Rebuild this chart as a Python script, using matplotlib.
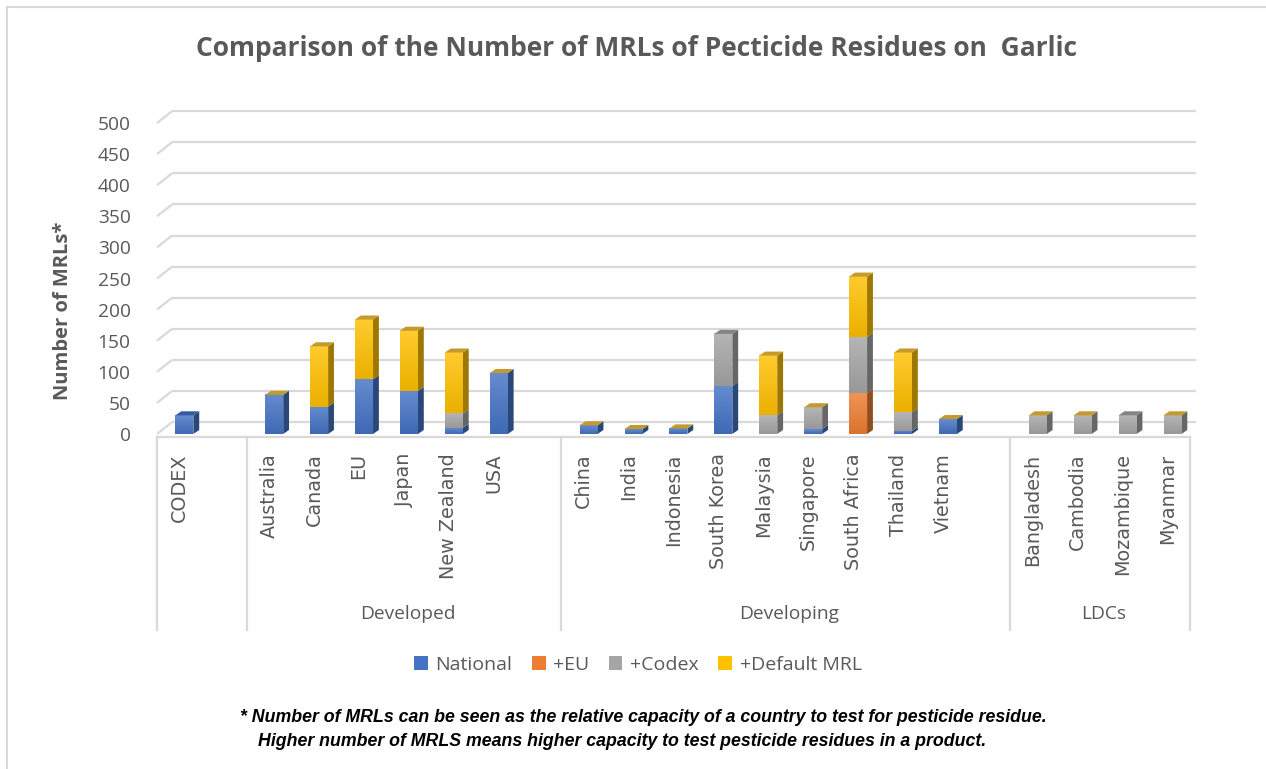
import numpy as np
import matplotlib
matplotlib.use("Agg")
import matplotlib.pyplot as plt
from matplotlib.patches import Patch, Polygon
from matplotlib.lines import Line2D
from matplotlib import colors as mcolors
from matplotlib import transforms

nan = np.nan

# ---- data -------------------------------------------------------------
group_names = ["", "Developed", "Developing", "LDCs"]
group_members = [
    ["CODEX"],
    ["Australia", "Canada", "EU", "Japan", "New Zealand", "USA"],
    ["China", "India", "Indonesia", "South Korea", "Malaysia", "Singapore",
     "South Africa", "Thailand", "Vietnam"],
    ["Bangladesh", "Cambodia", "Mozambique", "Myanmar"],
]
countries = [c for g in group_members for c in g]

national = [30, 63, 44, 88, 69, 10, 98, 14, 8, 9, 77, nan, 8, nan, 5, 24,
            nan, nan, nan, nan]
plus_eu = [nan, nan, nan, nan, nan, nan, nan, nan, nan, nan, nan, nan, nan,
           66, nan, nan, nan, nan, nan, nan]
plus_codex = [nan, 0, 0, 0, 0, 23, 0, 0, 0, 0, 84, 30, 35, 90, 30, 0,
              30, 30, 30, 30]
plus_default = [nan, 0, 97, 96, 97, 98, 0, 0, 0, 0, nan, 96, 0, 97, 96, 0,
                0, 0, nan, 0]

series_names = ["National", "+EU", "+Codex", "+Default MRL"]
series_values = [national, plus_eu, plus_codex, plus_default]
series_colors = ["#4472C4", "#ED7D31", "#A5A5A5", "#FFC000"]
y_ticks = [0, 50, 100, 150, 200, 250, 300, 350, 400, 450, 500]

# ---- figure -----------------------------------------------------------
W, H = 1266, 769
fig = plt.figure(figsize=(W / 100, H / 100), dpi=100)
fig.patch.set_facecolor("white")

TXT = "#595959"
GRID = "#D9D9D9"
SANS = ["Open Sans", "DejaVu Sans"]

ax = fig.add_axes([157 / W, (H - 434) / H, 1033 / W, 311 / H])
ax.set_facecolor("none")
for s in ax.spines.values():
    s.set_visible(False)

# slot positions: one empty slot after each group but the last
positions = []
group_spans = []
slot = 0
for gi, members in enumerate(group_members):
    start = slot
    for _ in members:
        positions.append(slot + 0.5)
        slot += 1
    if gi < len(group_members) - 1:
        slot += 1
    group_spans.append((start, slot))
n_slots = slot
positions = np.array(positions)

ax.set_xlim(0, n_slots)
ax.set_ylim(0, 500)

# 3D wall geometry (data units)
wall_dx, wall_dy = 0.333, 19
wall_right = n_slots + 0.13

for v in y_ticks:
    ax.plot([0, wall_dx], [v, v + wall_dy], color=GRID, lw=1.6,
            clip_on=False, zorder=0, solid_capstyle="butt")
    ax.plot([wall_dx, wall_right], [v + wall_dy, v + wall_dy], color=GRID,
            lw=1.6, clip_on=False, zorder=0, solid_capstyle="butt")


def shade(c, f):
    rgb = np.array(mcolors.to_rgb(c))
    if f >= 0:
        return tuple(rgb + (1 - rgb) * f)
    return tuple(rgb * (1 + f))


# bars
bw = 0.40
xoff = 0.11
bdx, bdy = 0.13, 6.5
vals = np.array([[0 if np.isnan(v) else v for v in s] for s in series_values])
present = np.array([[not np.isnan(v) for v in s] for s in series_values])

for ci, x in enumerate(positions):
    xc = x + xoff
    x0, x1 = xc - bw / 2, xc + bw / 2
    bottom = 0.0
    top_series = max(i for i in range(len(series_values)) if present[i, ci])
    for si in range(len(series_values)):
        h = vals[si, ci]
        col = series_colors[si]
        if h > 0:
            t = bottom + h
            grad = np.linspace(0, 1, 64)
            c_lo = np.array(shade(col, -0.08))
            c_hi = np.array(shade(col, 0.18))
            img = c_lo[None, :] * (1 - grad[:, None]) + c_hi[None, :] * grad[:, None]
            ax.imshow(img[:, None, :], extent=[x0, x1, bottom, t],
                      origin="lower", aspect="auto", zorder=3,
                      interpolation="bilinear")
            side = Polygon([(x1, bottom), (x1 + bdx, bottom + bdy),
                            (x1 + bdx, t + bdy), (x1, t)], closed=True,
                           facecolor=shade(col, -0.38), edgecolor="none",
                           zorder=2)
            ax.add_patch(side)
            bottom = t
        if si == top_series:
            cap_col = "#C49A2C" if si == 3 else shade(col, -0.2)
            cap = Polygon([(x0, bottom), (x0 + bdx, bottom + bdy),
                           (x1 + bdx, bottom + bdy), (x1, bottom)],
                          closed=True, facecolor=cap_col, edgecolor="none",
                          zorder=4)
            ax.add_patch(cap)

ax.set_xlim(0, n_slots)
ax.set_ylim(0, 500)

# y axis
ax.set_yticks(y_ticks)
ax.set_yticklabels([str(v) for v in y_ticks], fontsize=13.8, color=TXT,
                   family=SANS)
ax.tick_params(axis="y", length=0, pad=19)
ax.set_ylabel("Number of MRLs*", fontsize=14.5, fontweight="bold", color=TXT,
              family=SANS)
ax.yaxis.set_label_coords((73 - 157) / 1033, (434 - 311) / 311)

# category labels
ax.set_xticks(positions)
ax.set_xticklabels(countries, rotation=90, fontsize=13.8, color=TXT,
                   family="DejaVu Sans", va="top", ha="center")
ax.tick_params(axis="x", length=0, pad=14)

# category table lines
blend = transforms.blended_transform_factory(ax.transData, fig.transFigure)
y_top = (H - 437) / H
y_bot = (H - 630) / H
ax.plot([0, n_slots], [y_top, y_top], transform=blend, color=GRID, lw=1.6,
        clip_on=False, zorder=1)
edges = [0] + [e for _, e in group_spans]
for e in edges:
    ax.plot([e, e], [y_top, y_bot], transform=blend, color=GRID, lw=1.6,
            clip_on=False, zorder=1)
for name, (s, e) in zip(group_names, group_spans):
    if name:
        ax.text((s + e) / 2 + 0.08, (H - 614) / H, name, transform=blend,
                ha="center", va="center", fontsize=13.8, color=TXT,
                family=SANS)

# title
fig.text(637 / W, 1 - 48 / H,
         "Comparison of the Number of MRLs of Pecticide Residues on  Garlic",
         ha="center", va="center", fontsize=19, fontweight="bold",
         color=TXT, family=SANS)

# legend
handles = [Patch(facecolor=c, edgecolor="none") for c in series_colors]
leg = fig.legend(handles, series_names, loc="center",
                 bbox_to_anchor=(638 / W, 1 - 665 / H), ncol=4,
                 frameon=False, handlelength=0.7, handleheight=0.7,
                 handletextpad=0.4, columnspacing=1.0,
                 prop={"family": SANS, "size": 14})
for t in leg.get_texts():
    t.set_color(TXT)

# footnote
foot = dict(fontsize=12.8, fontweight="bold", fontstyle="italic",
            color="black", family=["Liberation Sans Narrow", "Liberation Sans"],
            va="center", ha="left")
fig.text(240 / W, 1 - 717 / H,
         "* Number of MRLs can be seen as the relative capacity of a country "
         "to test for pesticide residue.", **foot)
fig.text(258 / W, 1 - 741 / H,
         "Higher number of MRLS means higher capacity to test pesticide "
         "residues in a product.", **foot)

# chart frame
fig.add_artist(Line2D([7 / W, 1], [1 - 7 / H, 1 - 7 / H], color=GRID, lw=1.5))
fig.add_artist(Line2D([7 / W, 7 / W], [0, 1 - 7 / H], color=GRID, lw=1.5))

fig.savefig("out.png", dpi=100)
